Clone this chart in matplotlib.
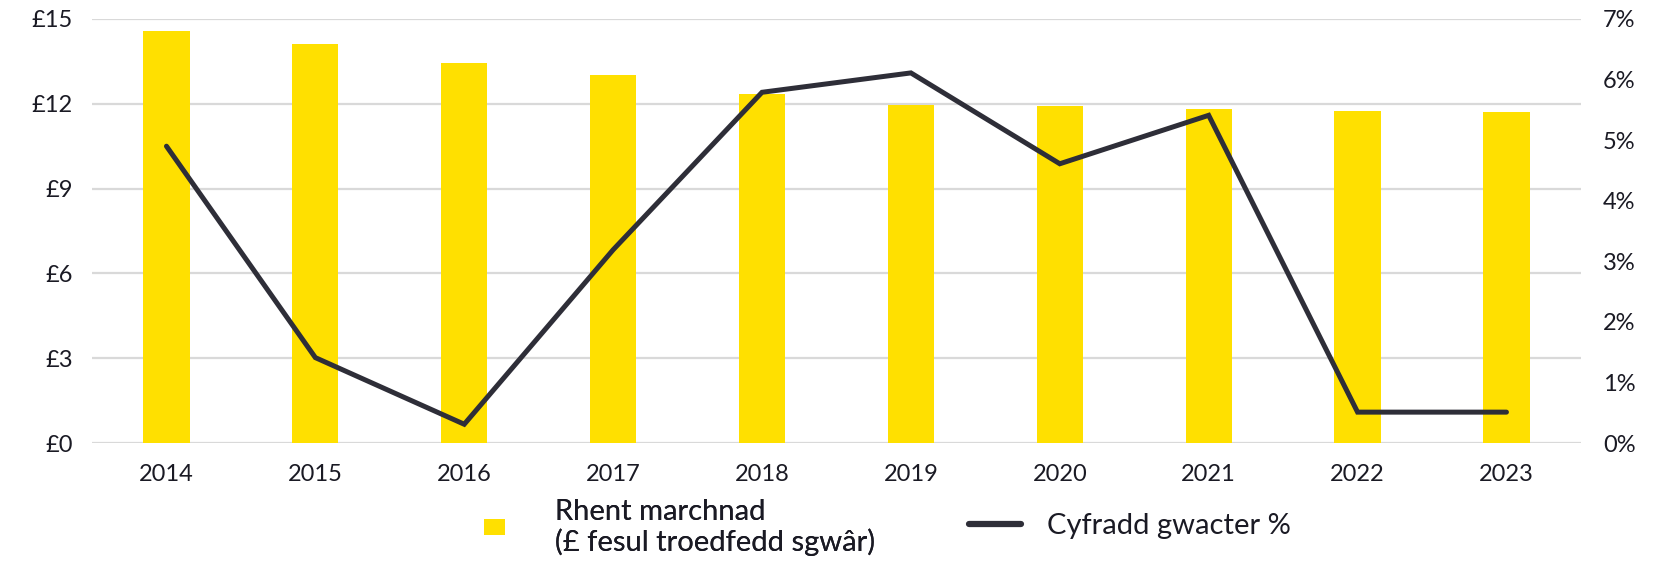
import numpy as np
import matplotlib
matplotlib.use('Agg')
import matplotlib.pyplot as plt
from matplotlib.patches import Patch
from matplotlib.lines import Line2D

plt.rcParams['font.family'] = ['Lato', 'DejaVu Sans']

years = ['2014', '2015', '2016', '2017', '2018', '2019', '2020', '2021', '2022', '2023']
rent = [14.57, 14.11, 13.44, 13.02, 12.34, 11.97, 11.93, 11.80, 11.74, 11.72]
vacancy = [4.90, 1.41, 0.31, 3.19, 5.79, 6.11, 4.61, 5.41, 0.51, 0.51]

yellow = '#FFE000'
dark = '#2E2E38'
grid_col = '#D9D9D9'
txt = '#1A1A24'

fig = plt.figure(figsize=(16.58, 5.62), dpi=100)
ax = fig.add_axes([0.0555, 0.2117, 0.898, 0.7545])
x = np.arange(len(years))

ax.bar(x, rent, width=0.31, color=yellow, zorder=2)
ax.set_xlim(-0.5, len(years) - 0.5)
ax.set_ylim(0, 15)
ax.set_yticks(np.arange(0, 16, 3))
ax.set_yticklabels(['£%d' % v for v in np.arange(0, 16, 3)])
ax.set_xticks(x)
ax.set_xticklabels(years)
ax.grid(axis='y', color=grid_col, linewidth=1.6, zorder=0)
ax.set_axisbelow(True)
for s in ax.spines.values():
    s.set_visible(False)
ax.tick_params(axis='both', length=0, labelsize=17, labelcolor=txt)
ax.tick_params(axis='y', pad=14)
ax.tick_params(axis='x', pad=15)

ax2 = ax.twinx()
ax2.plot(x, vacancy, color=dark, linewidth=3.6, solid_capstyle='round',
         solid_joinstyle='miter', zorder=3)
ax2.set_ylim(0, 7)
ax2.set_yticks(range(0, 8))
ax2.set_yticklabels(['%d%%' % v for v in range(0, 8)])
for s in ax2.spines.values():
    s.set_visible(False)
ax2.tick_params(axis='y', length=0, labelsize=17, labelcolor=txt, pad=16)

# legend in two parts, the handles differ in size
leg1 = fig.legend(handles=[Patch(facecolor=yellow, edgecolor='none')],
                  labels=['Rhent marchnad\n(£ fesul troedfedd sgwâr)'],
                  loc='center left', bbox_to_anchor=(484 / 1658, 0.062),
                  frameon=False, borderpad=0, borderaxespad=0,
                  handlelength=0.72, handleheight=0.45, handletextpad=1.71,
                  fontsize=21, labelcolor=txt)
for t in leg1.get_texts():
    t.set_linespacing(1.15)
leg2 = fig.legend(handles=[Line2D([0], [0], color=dark, linewidth=4.5, solid_capstyle='round')],
                  labels=['Cyfradd gwacter %'],
                  loc='center left', bbox_to_anchor=(969 / 1658, 0.064),
                  frameon=False, borderpad=0, borderaxespad=0,
                  handlelength=1.78, handletextpad=0.9,
                  fontsize=21, labelcolor=txt)
fig.add_artist(leg1)

fig.savefig('out.png', dpi=100)
